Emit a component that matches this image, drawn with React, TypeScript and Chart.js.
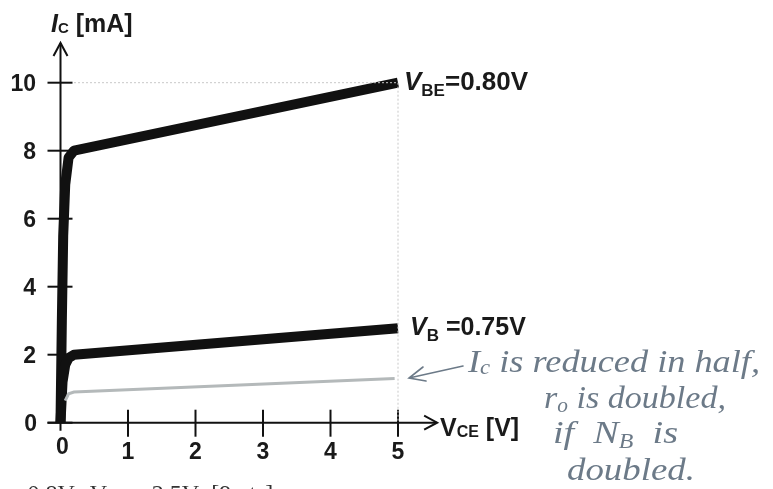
import React, { useEffect, useRef } from "react";
import { Chart, registerables } from "chart.js";

Chart.register(...registerables);

// ---- data ----
const xTicks = [0, 1, 2, 3, 4, 5];
const yTicks = [0, 2, 4, 6, 8, 10];

const vceHigh = [0, 0.02, 0.04, 0.07, 0.12, 0.2, 5];
const icHigh = [0, 3.0, 5.5, 7.0, 7.8, 8.0, 10.0];

const vceLow = [0, 0.03, 0.07, 0.12, 0.2, 5];
const icLow = [0, 1.2, 1.7, 1.9, 2.0, 2.78];

const vceHalf = [0.07, 0.12, 0.2, 4.95];
const icHalf = [0.65, 0.85, 0.9, 1.3];

const gridX = [0.2, 5, 5];
const gridY = [10, 10, 0];

const zip = (xs: number[], ys: number[]) => xs.map((x, i) => ({ x, y: ys[i] }));

type Run = { t: string; font: string; dy?: number };

function runsWidth(ctx: CanvasRenderingContext2D, runs: Run[]) {
  let w = 0;
  for (const r of runs) {
    ctx.font = r.font;
    w += ctx.measureText(r.t).width;
  }
  return w;
}

function drawRuns(ctx: CanvasRenderingContext2D, x: number, y: number, runs: Run[], fitWidth?: number) {
  ctx.save();
  if (fitWidth) {
    const w = runsWidth(ctx, runs);
    ctx.translate(x, 0);
    ctx.scale(fitWidth / w, 1);
    x = 0;
  }
  let cx = x;
  for (const r of runs) {
    ctx.font = r.font;
    ctx.fillText(r.t, cx, y + (r.dy || 0));
    cx += ctx.measureText(r.t).width;
  }
  ctx.restore();
}

const SANS = '"Liberation Sans", Arial, sans-serif';
const SERIF = '"Liberation Serif", "Times New Roman", serif';

const overlay = {
  id: "overlay",
  beforeDatasetsDraw(chart: any) {
    const ctx: CanvasRenderingContext2D = chart.ctx;
    const xs = chart.scales.x;
    const ys = chart.scales.y;
    const x0 = xs.getPixelForValue(0);
    const y0 = ys.getPixelForValue(0);
    ctx.save();
    ctx.strokeStyle = "#111";
    ctx.fillStyle = "#111";
    ctx.lineWidth = 2;
    ctx.lineCap = "butt";
    // y axis
    const yTop = ys.getPixelForValue(11.17);
    ctx.beginPath();
    ctx.moveTo(x0, y0 + 8);
    ctx.lineTo(x0, yTop);
    ctx.stroke();
    ctx.beginPath();
    ctx.moveTo(x0 - 7, yTop + 13);
    ctx.lineTo(x0, yTop);
    ctx.lineTo(x0 + 7, yTop + 13);
    ctx.stroke();
    // x axis
    const xEnd = xs.getPixelForValue(5.58);
    ctx.beginPath();
    ctx.moveTo(x0 - 13, y0);
    ctx.lineTo(xEnd, y0);
    ctx.stroke();
    ctx.beginPath();
    ctx.moveTo(xEnd - 13, y0 - 7);
    ctx.lineTo(xEnd, y0);
    ctx.lineTo(xEnd - 13, y0 + 7);
    ctx.stroke();
    // y ticks
    for (const v of yTicks) {
      const p = ys.getPixelForValue(v);
      ctx.beginPath();
      ctx.moveTo(x0 - 13, p);
      ctx.lineTo(x0 + 12, p);
      ctx.stroke();
    }
    // x ticks
    for (const v of xTicks) {
      if (v === 0) continue;
      const p = xs.getPixelForValue(v);
      ctx.beginPath();
      ctx.moveTo(p, y0 - 13);
      ctx.lineTo(p, y0 + 14);
      ctx.stroke();
    }
    ctx.restore();
  },
  afterDraw(chart: any) {
    const ctx: CanvasRenderingContext2D = chart.ctx;
    const xs = chart.scales.x;
    const ys = chart.scales.y;
    const y0 = ys.getPixelForValue(0);
    ctx.save();
    ctx.fillStyle = "#1a1a1a";
    ctx.textBaseline = "alphabetic";
    // y tick labels
    ctx.font = `bold 23px ${SANS}`;
    ctx.textAlign = "right";
    for (const v of yTicks) {
      const p = ys.getPixelForValue(v);
      ctx.fillText(String(v), v === 0 ? 37 : 36, p + 8);
    }
    // x tick labels
    ctx.textAlign = "center";
    for (const v of xTicks) {
      const p = xs.getPixelForValue(v);
      ctx.fillText(String(v), v === 0 ? p + 2 : p, v === 0 ? y0 + 31 : y0 + 36);
    }
    ctx.textAlign = "left";
    // axis titles
    drawRuns(ctx, 51, 32, [
      { t: "I", font: `italic bold 25px ${SANS}` },
      { t: "C", font: `bold 15px ${SANS}`, dy: 1 },
      { t: " [mA]", font: `bold 25px ${SANS}` },
    ]);
    drawRuns(ctx, 440, y0 + 13, [
      { t: "V", font: `bold 25px ${SANS}` },
      { t: "CE", font: `bold 16px ${SANS}`, dy: 1 },
      { t: " [V]", font: `bold 25px ${SANS}` },
    ]);
    // curve labels
    drawRuns(ctx, 404, 90, [
      { t: "V", font: `italic bold 26px ${SANS}` },
      { t: "BE", font: `bold 17px ${SANS}`, dy: 6 },
      { t: "=0.80V", font: `bold 26px ${SANS}` },
    ]);
    drawRuns(ctx, 410, 335, [
      { t: "V", font: `italic bold 25px ${SANS}` },
      { t: "B", font: `bold 17px ${SANS}`, dy: 6 },
      { t: " =0.75V", font: `bold 25px ${SANS}` },
    ]);
    // handwritten note
    ctx.fillStyle = "#6c7a88";
    ctx.strokeStyle = "#6c7a88";
    ctx.lineWidth = 1.6;
    ctx.lineCap = "round";
    ctx.beginPath();
    ctx.moveTo(463, 366);
    ctx.lineTo(409, 378);
    ctx.moveTo(423, 367);
    ctx.lineTo(409, 378);
    ctx.lineTo(426, 381);
    ctx.stroke();
    const hw = `italic 32px ${SERIF}`;
    const hs = `italic 20px ${SERIF}`;
    drawRuns(ctx, 468, 372, [
      { t: "I", font: hw },
      { t: "c", font: hs, dy: 2 },
      { t: " is reduced in half,", font: hw },
    ], 292);
    drawRuns(ctx, 544, 408, [
      { t: "r", font: hw },
      { t: "o", font: hs, dy: 4 },
      { t: " is doubled,", font: hw },
    ], 182);
    drawRuns(ctx, 553, 443, [
      { t: "if  N", font: hw },
      { t: "B", font: hs, dy: 5 },
      { t: "  is", font: hw },
    ], 125);
    drawRuns(ctx, 567, 480, [{ t: "doubled.", font: hw }], 128);
    // cut-off caption
    ctx.fillStyle = "#333";
    drawRuns(ctx, 8, 501, [
      { t: "= 0.8V,  V", font: `24px ${SERIF}` },
      { t: "CE", font: `15px ${SERIF}`, dy: 4 },
      { t: " = 2.5V  [9 pts]", font: `24px ${SERIF}` },
    ]);
    ctx.restore();
  },
};

export default function App() {
  const ref = useRef<HTMLCanvasElement | null>(null);
  useEffect(() => {
    document.body.style.margin = "0";
    const canvas = ref.current!;
    const pxX = 67.5;
    const pxY = 34;
    const ox = 60.5;
    const oy = 422.7;
    const chart = new Chart(canvas, {
      type: "scatter",
      data: {
        datasets: [
          {
            label: "grid",
            data: zip(gridX, gridY),
            showLine: true,
            borderColor: "#c8c8c8",
            borderWidth: 1,
            borderDash: [2, 2],
            pointRadius: 0,
          },
          {
            label: "NB doubled",
            data: zip(vceHalf, icHalf),
            showLine: true,
            borderColor: "#b4b9ba",
            borderWidth: 3,
            pointRadius: 0,
          },
          {
            label: "VB=0.75V",
            data: zip(vceLow, icLow),
            showLine: true,
            borderColor: "#111",
            borderWidth: 10,
            borderJoinStyle: "round",
            pointRadius: 0,
          },
          {
            label: "VBE=0.80V",
            data: zip(vceHigh, icHigh),
            showLine: true,
            borderColor: "#111",
            borderWidth: 10,
            borderJoinStyle: "round",
            pointRadius: 0,
          },
        ],
      },
      options: {
        responsive: false,
        animation: false,
        events: [],
        layout: { padding: 0 },
        plugins: { legend: { display: false }, tooltip: { enabled: false } },
        scales: {
          x: { type: "linear", display: false, min: -ox / pxX, max: (773 - ox) / pxX },
          y: { type: "linear", display: false, min: -(489 - oy) / pxY, max: oy / pxY },
        },
      } as any,
      plugins: [overlay],
    });
    return () => chart.destroy();
  }, []);
  return (
    <div style={{ position: "absolute", left: 0, top: 0, width: 773, height: 489, background: "#fff" }}>
      <canvas ref={ref} width={773} height={489} style={{ display: "block" }} />
    </div>
  );
}
